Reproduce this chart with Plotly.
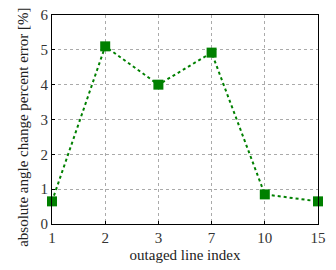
import plotly.graph_objects as go

categories = ["1", "2", "3", "7", "10", "15"]
errors = [0.65, 5.1, 4.0, 4.92, 0.85, 0.65]
y_ticks = [0, 1, 2, 3, 4, 5, 6]

fig = go.Figure()
fig.add_trace(go.Scatter(
    x=categories, y=errors, mode="lines+markers",
    line=dict(color="#008000", width=2, dash="dot"),
    marker=dict(symbol="square", size=10, color="#008000"),
    cliponaxis=False,
))

fig.update_layout(
    width=336, height=270,
    margin=dict(l=52, r=18, t=15, b=46, autoexpand=False),
    paper_bgcolor="white", plot_bgcolor="white",
    font=dict(family="Liberation Serif", size=15, color="#222"),
    showlegend=False,
    annotations=[dict(
        text="absolute angle change percent error [%]",
        xref="paper", yref="paper", x=-0.109, y=0.46,
        xanchor="center", yanchor="middle", textangle=-90,
        showarrow=False, font=dict(size=15, color="#222"),
    )],
)
fig.update_xaxes(
    type="category", range=[0, 5], automargin=False,
    showline=True, linecolor="black", linewidth=1, mirror=True,
    showgrid=True, gridcolor="#aaa", griddash="dot", gridwidth=1,
    ticks="inside", ticklen=3, tickcolor="black",
    title=dict(text="outaged line index", standoff=4, font=dict(size=15)),
    tickfont=dict(size=15, color="#333"),
    zeroline=False,
)
fig.update_yaxes(
    range=[0, 6], tickvals=y_ticks, automargin=False,
    showline=True, linecolor="black", linewidth=1, mirror=True,
    showgrid=True, gridcolor="#aaa", griddash="dot", gridwidth=1,
    ticks="inside", ticklen=3, tickcolor="black",
    tickfont=dict(size=15, color="#333"),
    zeroline=False,
)

fig.write_html(
    "out.html",
    config={"displayModeBar": False},
    post_script="document.body.style.margin='0';document.body.style.overflow='hidden';",
)
